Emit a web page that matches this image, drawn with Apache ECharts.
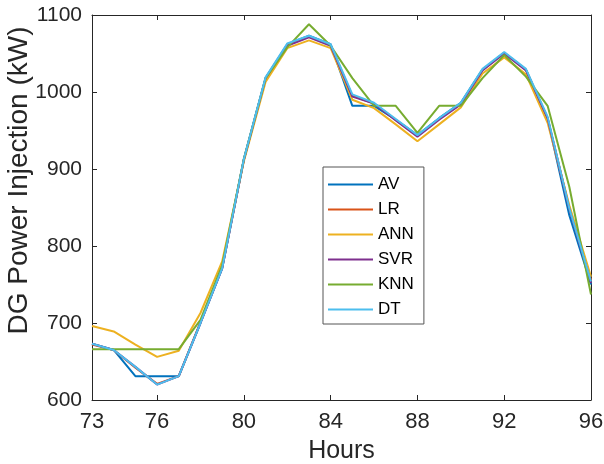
<!DOCTYPE html>
<html>
<head>
<meta charset="utf-8">
<script src="https://cdn.jsdelivr.net/npm/echarts@6/dist/echarts.min.js"></script>
<style>
html,body{margin:0;padding:0;background:#fff;}
#chart{width:604px;height:464px;}
</style>
</head>
<body>
<div id="chart"></div>
<script>
const hours = [73,74,75,76,77,78,79,80,81,82,83,84,85,86,87,88,89,90,91,92,93,94,95,96];
const xTicks = [73,76,80,84,88,92,96];
const seriesNames = ['AV','LR','ANN','SVR','KNN','DT'];
const AV  = [673,665,631,631,631,700,771,913,1018,1062,1073,1062,982,982,964,944,966,986,1029,1051,1029,965,840,750];
const LR  = [672,665,642,621,631,701,772,912,1017,1061,1072,1061,995,985,964,943,965,985,1029,1051,1029,966,850,756];
const ANN = [696,689,672,656,664,713,780,910,1013,1057,1067,1057,990,979,958,936,958,980,1024,1045,1023,960,853,760];
const SVR = [673,665,643,620,631,700,771,912,1018,1060,1071,1060,994,985,963,942,964,984,1028,1050,1028,966,848,752];
const KNN = [666,666,666,666,666,704,775,913,1018,1058,1088,1060,1018,982,982,947,982,982,1018,1048,1020,982,877,737];
const DT  = [673,665,643,620,631,700,771,913,1019,1063,1073,1062,997,986,965,944,966,986,1030,1052,1030,968,849,754];
const colors = ['#0072BD','#D95319','#EDB120','#7E2F8E','#77AC30','#4DBEEE'];
const allData = [AV, LR, ANN, SVR, KNN, DT];

const axisColor = '#262626';
const font = '"Liberation Sans", Arial, sans-serif';

const chart = echarts.init(document.getElementById('chart'), null, {renderer: 'canvas'});
const option = {
  animation: false,
  backgroundColor: '#fff',
  color: colors,
  grid: {left: 92, right: 13, top: 15, bottom: 64, containLabel: false, outerBoundsMode: 'none'},
  legend: {
    orient: 'vertical',
    left: 323, top: 167,
    padding: [9, 10, 6, 5],
    icon: 'rect',
    itemWidth: 45, itemHeight: 2, itemGap: 8,
    borderColor: '#555', borderWidth: 1,
    backgroundColor: '#fff',
    textStyle: {fontFamily: font, fontSize: 17, color: '#000', lineHeight: 16},
    data: seriesNames
  },
  xAxis: [{
    type: 'value', min: 73, max: 96, position: 'bottom',
    name: 'Hours', nameLocation: 'middle', nameGap: 39, nameMoveOverlap: false,
    nameTextStyle: {fontFamily: font, fontSize: 25, color: axisColor},
    axisLine: {show: true, lineStyle: {color: axisColor, width: 1}},
    axisTick: {show: true, inside: true, length: 5, customValues: xTicks, lineStyle: {color: axisColor}},
    axisLabel: {customValues: xTicks, fontFamily: font, fontSize: 22, color: axisColor, margin: 11},
    splitLine: {show: false}
  }, {
    type: 'value', min: 73, max: 96, position: 'top',
    axisLine: {show: true, onZero: false, lineStyle: {color: axisColor, width: 1}},
    axisTick: {show: true, inside: true, length: 5, customValues: xTicks, lineStyle: {color: axisColor}},
    axisLabel: {show: false},
    splitLine: {show: false}
  }],
  yAxis: [{
    type: 'value', min: 600, max: 1100, interval: 100, position: 'left',
    name: 'DG Power Injection (kW)', nameLocation: 'middle', nameGap: 59, nameMoveOverlap: false,
    nameTextStyle: {fontFamily: font, fontSize: 28, color: axisColor, padding: [0, 0, 0, 54]},
    axisLine: {show: true, lineStyle: {color: axisColor, width: 1}},
    axisTick: {show: true, inside: true, length: 5, lineStyle: {color: axisColor}},
    axisLabel: {fontFamily: font, fontSize: 21, color: axisColor, margin: 10, formatter: v => String(v)},
    splitLine: {show: false}
  }, {
    type: 'value', min: 600, max: 1100, interval: 100, position: 'right',
    axisLine: {show: true, onZero: false, lineStyle: {color: axisColor, width: 1}},
    axisTick: {show: true, inside: true, length: 5, lineStyle: {color: axisColor}},
    axisLabel: {show: false},
    splitLine: {show: false}
  }],
  series: seriesNames.map((name, i) => ({
    name: name,
    type: 'line',
    xAxisIndex: 0, yAxisIndex: 0,
    symbol: 'none',
    lineStyle: {width: 2, color: colors[i]},
    itemStyle: {color: colors[i]},
    data: hours.map((h, j) => [h, allData[i][j]])
  }))
};
chart.setOption(option);
</script>
</body>
</html>
